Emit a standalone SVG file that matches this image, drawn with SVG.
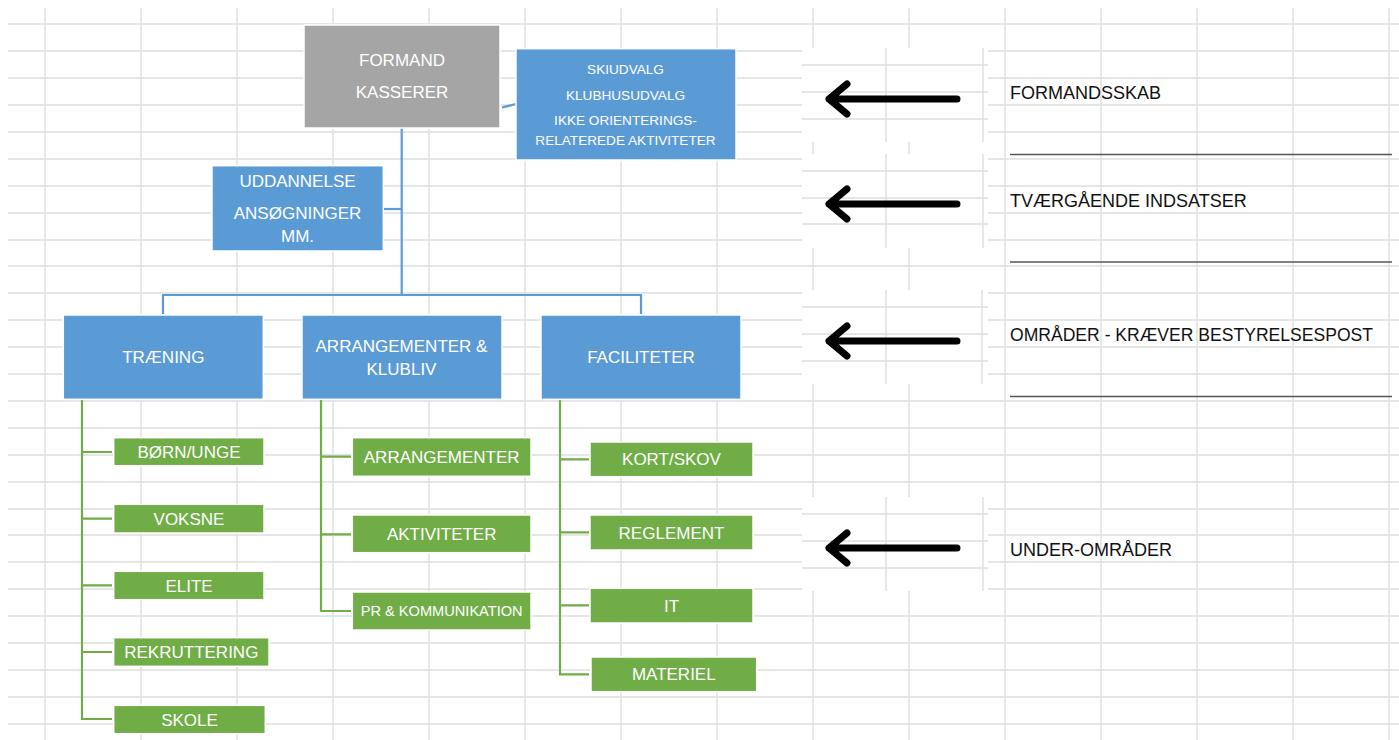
<svg xmlns="http://www.w3.org/2000/svg" width="1399" height="740" viewBox="0 0 1399 740">
<defs>
<style>
.grid{stroke:#dedede;stroke-width:1.4;fill:none}
.blue{fill:#5b9bd5;stroke:#ffffff;stroke-width:1.5}
.gray{fill:#a5a5a5;stroke:#ffffff;stroke-width:1.5}
.green{fill:#70ad47;stroke:#ffffff;stroke-width:1.5}
.t{font-family:"Liberation Sans",Arial,sans-serif;fill:#ffffff;text-anchor:middle}
.t17{font-size:17px}
.t14{font-size:13.6px}
.cb{stroke:#5b9bd5;stroke-width:2.2;fill:none}
.cg{stroke:#70ad47;stroke-width:2.2;fill:none}
.lbl{font-family:"Liberation Sans",Arial,sans-serif;font-size:18px;fill:#111111}
.ul{stroke:#555555;stroke-width:1.5}
.arrbox{fill:#ffffff}
.arr{stroke:#000000;stroke-width:7;fill:none;stroke-linecap:round;stroke-linejoin:round}
</style>
</defs>
<rect width="1399" height="740" fill="#ffffff"/>
<g id="grid">
<path class="grid" d="M8 24H1399M8 51H1399M8 78H1399M8 105H1399M8 132H1399M8 159H1399M8 186H1399M8 213H1399M8 240H1399M8 266H1399M8 293H1399M8 320H1399M8 347H1399M8 374H1399M8 401H1399M8 428H1399M8 455H1399M8 482H1399M8 509H1399M8 535H1399M8 562H1399M8 589H1399M8 616H1399M8 643H1399M8 670H1399M8 697H1399M8 724H1399"/>
<path class="grid" d="M45 8V740M141 8V740M237 8V740M333 8V740M429 8V740M525 8V740M621 8V740M717 8V740M813 8V740M909 8V740M1005 8V740M1101 8V740M1197 8V740M1293 8V740M1389 8V740"/>
</g>
<g id="arrow-formandsskab">
<rect class="arrbox" x="802" y="48" width="186" height="94"/>
<path class="grid" d="M802 65H988M802 92H988M802 119H988M886 48V142M983 48V142"/>
<path class="arr" d="M957 99H829M847 84L829 99L847 114"/>
</g>
<g id="arrow-tvaergaende">
<rect class="arrbox" x="802" y="154" width="186" height="94"/>
<path class="grid" d="M802 171H988M802 198H988M802 224H988M886 154V248M983 154V248"/>
<path class="arr" d="M957 204H829M847 189L829 204L847 219"/>
</g>
<g id="arrow-omraader">
<rect class="arrbox" x="802" y="290" width="186" height="94"/>
<path class="grid" d="M802 307H988M802 334H988M802 361H988M886 290V384M982 290V384"/>
<path class="arr" d="M957 341H829M847 326L829 341L847 356"/>
</g>
<g id="arrow-underomraader">
<rect class="arrbox" x="802" y="497" width="186" height="94"/>
<path class="grid" d="M802 514H988M802 541H988M802 568H988M886 497V591M983 497V591"/>
<path class="arr" d="M957 548H829M847 533L829 548L847 563"/>
</g>
<g id="labels">
<text class="lbl" x="1010" y="99">FORMANDSSKAB</text>
<line class="ul" x1="1010" y1="154.5" x2="1392" y2="154.5"/>
<text class="lbl" x="1010" y="207">TVÆRGÅENDE INDSATSER</text>
<line class="ul" x1="1010" y1="262" x2="1392" y2="262"/>
<text class="lbl" x="1010" y="341" textLength="363" lengthAdjust="spacingAndGlyphs">OMRÅDER - KRÆVER BESTYRELSESPOST</text>
<line class="ul" x1="1010" y1="396.5" x2="1392" y2="396.5"/>
<text class="lbl" x="1010" y="556">UNDER-OMRÅDER</text>
</g>
<g id="connectors">
<path class="cb" d="M502 107.5L516 104"/>
<path class="cb" d="M401.7 128V295"/>
<path class="cb" d="M383.5 209H401.7"/>
<path class="cb" d="M163 314V295H641V314"/>
<path class="cg" d="M82 400V719H112M82 452H112M82 518.7H112M82 585.3H112M82 652H112"/>
<path class="cg" d="M321 400V611H351M321 456.7H351M321 534.3H351"/>
<path class="cg" d="M560 400V674.3H589M560 459.3H589M560 532.3H589M560 605.3H589"/>
</g>
<g id="node-formand">
<rect class="gray" x="304" y="25" width="196" height="103"/>
<text class="t t17" x="402" y="66">FORMAND</text>
<text class="t t17" x="402" y="97.5">KASSERER</text>
</g>
<g id="node-udvalg">
<rect class="blue" x="516" y="48.7" width="220" height="111.3"/>
<text class="t t14" x="625.5" y="74">SKIUDVALG</text>
<text class="t t14" x="625.5" y="100">KLUBHUSUDVALG</text>
<text class="t t14" x="625.5" y="125">IKKE ORIENTERINGS-</text>
<text class="t t14" x="625.5" y="144.5">RELATEREDE AKTIVITETER</text>
</g>
<g id="node-uddannelse">
<rect class="blue" x="212" y="165.7" width="171.3" height="85.3"/>
<text class="t t17" x="297.5" y="187">UDDANNELSE</text>
<text class="t t17" x="297.5" y="219">ANSØGNINGER</text>
<text class="t t17" x="297.5" y="242">MM.</text>
</g>
<g id="node-traening">
<rect class="blue" x="63.3" y="315" width="200" height="84.3"/>
<text class="t t17" x="163.3" y="362.5">TRÆNING</text>
</g>
<g id="node-arrangementer-klubliv">
<rect class="blue" x="302" y="315" width="200" height="84.3"/>
<text class="t t17" x="401.5" y="351.5">ARRANGEMENTER &amp;</text>
<text class="t t17" x="401.5" y="374.5">KLUBLIV</text>
</g>
<g id="node-faciliteter">
<rect class="blue" x="541" y="315" width="200" height="84.3"/>
<text class="t t17" x="641" y="362.5">FACILITETER</text>
</g>
<g id="node-born-unge">
<rect class="green" x="113.7" y="437.7" width="150.3" height="28"/>
<text class="t t17" x="189" y="457.8">BØRN/UNGE</text>
</g>
<g id="node-voksne">
<rect class="green" x="113.7" y="504.3" width="150.3" height="28.7"/>
<text class="t t17" x="189" y="524.7">VOKSNE</text>
</g>
<g id="node-elite">
<rect class="green" x="113.7" y="571.3" width="150.3" height="28.4"/>
<text class="t t17" x="189" y="591.5">ELITE</text>
</g>
<g id="node-rekruttering">
<rect class="green" x="113.7" y="637.7" width="155.3" height="28.6"/>
<text class="t t17" x="191.3" y="658">REKRUTTERING</text>
</g>
<g id="node-skole">
<rect class="green" x="113.7" y="705.3" width="151.6" height="28.4"/>
<text class="t t17" x="189.5" y="725.5">SKOLE</text>
</g>
<g id="node-arrangementer">
<rect class="green" x="352.3" y="437.7" width="178.7" height="38.6"/>
<text class="t t17" x="441.7" y="463">ARRANGEMENTER</text>
</g>
<g id="node-aktiviteter">
<rect class="green" x="352.3" y="515" width="178.7" height="37.7"/>
<text class="t t17" x="441.7" y="539.8">AKTIVITETER</text>
</g>
<g id="node-pr">
<rect class="green" x="352.3" y="592" width="178.7" height="38"/>
<text class="t" style="font-size:14.6px" x="441.7" y="616">PR &amp; KOMMUNIKATION</text>
</g>
<g id="node-kort-skov">
<rect class="green" x="590" y="442" width="163" height="34.7"/>
<text class="t t17" x="671.5" y="465.4">KORT/SKOV</text>
</g>
<g id="node-reglement">
<rect class="green" x="590" y="515" width="163" height="35"/>
<text class="t t17" x="671.5" y="538.5">REGLEMENT</text>
</g>
<g id="node-it">
<rect class="green" x="590" y="588.3" width="163" height="34.7"/>
<text class="t t17" x="671.5" y="611.7">IT</text>
</g>
<g id="node-materiel">
<rect class="green" x="591" y="657" width="165.7" height="34.7"/>
<text class="t t17" x="673.8" y="680.4">MATERIEL</text>
</g>
</svg>
